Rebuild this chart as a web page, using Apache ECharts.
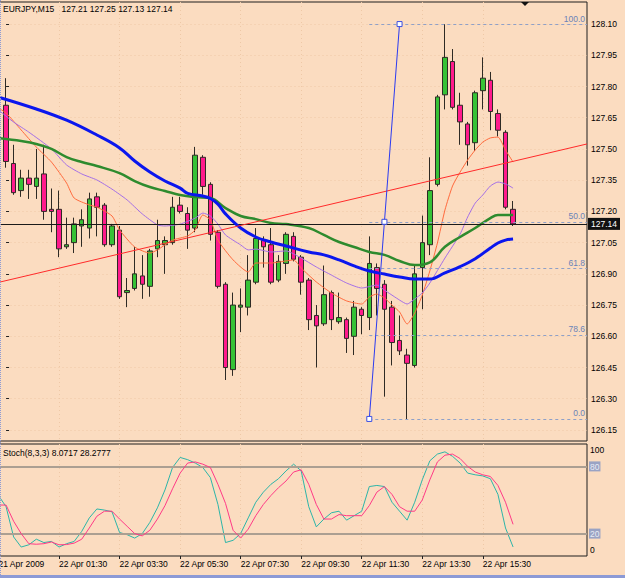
<!DOCTYPE html>
<html><head><meta charset="utf-8">
<script src="https://cdn.jsdelivr.net/npm/echarts@6/dist/echarts.min.js"></script>
<style>html,body{margin:0;padding:0;background:#FBDCC0;}#c{width:625px;height:578px;}</style>
</head><body><div id="c"></div>
<script>
// ---------- data ----------
const symbolName = 'EURJPY,M15';
// bar index 0 = 21 Apr 23:45, one bar per 15 minutes
const openP  = [127.71,127.43,127.30,127.36,127.32,127.38,127.21,127.21,127.03,127.05,127.13,127.12,127.27,127.23,127.04,127.11,126.81,126.83,126.89,126.84,127.02,127.04,127.05,127.23,127.19,127.12,127.46,127.33,127.10,126.85,126.44,126.74,126.74,126.86,127.06,127.04,126.87,126.95,127.08,126.98,126.87,126.70,126.66,126.81,126.67,126.68,126.60,126.73,126.69,126.93,126.85,126.74,126.58,126.51,126.46,126.93,127.04,127.33,127.76,127.92,127.71,127.62,127.53,127.78,127.83,127.67,127.58,127.21];
const highP  = [127.84,127.52,127.40,127.40,127.50,127.52,127.31,127.30,127.17,127.17,127.21,127.29,127.29,127.24,127.14,127.13,126.88,127.03,126.99,127.02,127.16,127.08,127.27,127.27,127.22,127.51,127.47,127.34,127.11,126.86,126.81,126.83,126.99,127.12,127.08,127.12,126.99,127.10,127.10,126.99,126.88,126.75,126.94,126.82,126.81,126.69,126.77,126.74,127.08,126.95,126.87,126.77,126.70,126.54,126.94,127.18,127.46,127.76,128.10,127.98,127.77,127.63,127.78,127.94,127.87,127.69,127.59,127.25];
const lowP   = [127.41,127.28,127.27,127.26,127.26,127.16,127.10,126.98,127.02,127.00,127.03,127.07,127.08,127.03,127.03,126.78,126.74,126.82,126.78,126.79,126.98,126.90,127.04,127.19,127.02,127.10,127.28,127.06,126.83,126.39,126.41,126.62,126.70,126.85,126.93,126.85,126.86,126.90,126.96,126.80,126.63,126.45,126.65,126.63,126.66,126.52,126.51,126.61,126.63,126.70,126.31,126.46,126.51,126.20,126.45,126.73,126.99,127.32,127.69,127.69,127.52,127.42,127.49,127.69,127.59,127.56,127.21,127.13];
const closeP = [127.44,127.29,127.36,127.33,127.36,127.20,127.20,127.02,127.04,127.14,127.16,127.26,127.22,127.04,127.13,126.79,126.82,126.90,126.85,127.01,127.06,127.06,127.22,127.20,127.11,127.47,127.32,127.09,126.84,126.45,126.75,126.75,126.87,127.07,127.03,126.86,126.96,127.09,126.97,126.86,126.68,126.65,126.80,126.68,126.69,126.59,126.74,126.70,126.95,126.83,126.73,126.57,126.53,126.47,126.90,127.05,127.30,127.75,127.94,127.70,127.63,127.52,127.77,127.84,127.68,127.59,127.22,127.14];

const priceTicks = [126.15,126.30,126.45,126.60,126.75,126.90,127.05,127.20,127.35,127.50,127.65,127.80,127.95,128.10];
const timeTickIdx = [-1,7,15,23,31,39,47,55,63];
const timeTickLabels = ['21 Apr 2009','22 Apr 01:30','22 Apr 03:30','22 Apr 05:30','22 Apr 07:30','22 Apr 09:30','22 Apr 11:30','22 Apr 13:30','22 Apr 15:30'];

// moving averages: [bar index, price]
const maBlue = [[-1,127.749],[4,127.692],[8,127.638],[12,127.567],[15,127.505],[17,127.442],[19,127.389],[21,127.346],[23,127.312],[24,127.287],[26,127.274],[27,127.262],[28,127.235],[29,127.188],[31,127.120],[33,127.077],[35,127.053],[37,127.034],[40,127.005],[42,126.991],[44,126.967],[46,126.938],[48,126.914],[50,126.899],[52,126.885],[54,126.875],[56,126.875],[58,126.905],[60,126.935],[62,126.973],[64,127.024],[65,127.048],[66,127.062],[67,127.067]];
const maGreen = [[-1,127.552],[2,127.538],[4,127.524],[6,127.500],[8,127.461],[10,127.437],[12,127.418],[15,127.384],[17,127.346],[19,127.317],[21,127.298],[23,127.279],[25,127.269],[27,127.264],[29,127.216],[31,127.178],[33,127.163],[35,127.144],[37,127.139],[40,127.120],[42,127.087],[44,127.053],[46,127.029],[48,127.005],[50,126.991],[52,126.962],[54,126.942],[56,126.955],[58,127.030],[60,127.077],[62,127.120],[64,127.168],[65,127.183],[67,127.183]];
const maViolet = [[-1,127.687],[1,127.629],[3,127.581],[6,127.500],[8,127.423],[10,127.380],[12,127.351],[14,127.307],[16,127.255],[18,127.188],[20,127.135],[21,127.130],[23,127.139],[25,127.168],[26,127.192],[27,127.178],[28,127.139],[29,127.087],[31,127.039],[32,127.015],[33,127.019],[35,127.005],[37,127.010],[39,126.976],[41,126.933],[43,126.894],[45,126.856],[47,126.832],[49,126.846],[50,126.822],[52,126.774],[53,126.755],[54,126.779],[55,126.808],[56,126.856],[58,126.976],[60,127.091],[61,127.173],[62,127.240],[63,127.279],[64,127.322],[65,127.341],[66,127.332],[67,127.312]];
const maTomato = [[-1,127.696],[0,127.673],[2,127.591],[4,127.509],[6,127.437],[8,127.336],[9,127.264],[11,127.231],[12,127.221],[14,127.178],[15,127.111],[17,127.029],[19,127.000],[20,127.015],[22,127.062],[24,127.082],[25,127.111],[26,127.183],[27,127.159],[28,127.062],[30,126.967],[32,126.909],[33,126.952],[35,126.952],[37,126.962],[38,126.967],[39,126.928],[41,126.861],[43,126.808],[45,126.770],[47,126.755],[48,126.789],[49,126.803],[50,126.784],[51,126.750],[52,126.717],[53,126.659],[54,126.712],[55,126.798],[56,126.914],[57,127.048],[58,127.207],[59,127.322],[60,127.389],[61,127.447],[62,127.495],[63,127.533],[64,127.553],[65,127.557],[66,127.495],[67,127.437]];

const trendLine = [[-1,126.859],[76.77,127.524]];
const fibLevels = ['100.0','50.0','61.8','78.6','0.0'];
const fibPrices = [128.10,127.15,126.926,126.607,126.203];
const fibAnchors = [[48,126.203],[50,127.15],[52,128.10]];
const bidPrice = 127.14;

// stochastic, bar index -1 .. 67
const stochK = [54,44,17,8,10,15,12,13,8,11,13,22,34,42,41,39.5,21,19,16,20,30,43,59,79,88,86,83,79,70,46,12,14,20,34,48,57,64,69,76,82,76,44,26,33,38.6,40,32,36,40,62,63,62,48,40,32,48,68,85,91,93,89,83,74,72.5,71.5,69,55,25,8.0717];
const stochD = [45.5,45.5,31,20,11,10.5,11,12.5,10,10.2,11.5,15,25,35.5,40,40,33,26.5,20,18,23,33,45,60,74,83,84,82,79,64,47,23,16,24,36,46,54,61,67,75,77,64,46,33,33,37,36,36,36,45,57,62,55,44,40,40,50,68,84,90,91,87,80,75,72.5,71,63,48,28.2777];
const stochLevels = [20,80];
const stochScale = [0,20,80,100];

// ---------- chart ----------
const FONT = 'Liberation Sans';
const FS = 8.5;
const dots = {color:'#eec8a6', type:[1,3], width:1};
const candles = openP.map((o,i)=>[i,o,closeP[i],lowP[i],highP[i]]);
const lastI = openP.length-1;
const labelMap = {};
timeTickIdx.forEach((v,k)=>labelMap[v]=timeTickLabels[k]);
const lbl = {fontSize:FS, color:'#000', fontFamily:FONT, showMinLabel:true, showMaxLabel:true, hideOverlap:false};

const chart = echarts.init(document.getElementById('c'), null, {renderer:'svg'});
chart.setOption({
  animation:false,
  backgroundColor:'#FBDCC0',
  textStyle:{fontFamily:FONT},
  title:[
    {text:`${symbolName}   ${openP[lastI].toFixed(2)} ${highP[lastI].toFixed(2)} ${lowP[lastI].toFixed(2)} ${closeP[lastI].toFixed(2)}`,
     left:3, top:4, padding:0, textStyle:{fontSize:FS, fontWeight:'normal', color:'#000', fontFamily:FONT}},
    {text:`Stoch(8,3,3) ${stochK[stochK.length-1]} ${stochD[stochD.length-1]}`,
     left:3, top:448, padding:0, textStyle:{fontSize:FS, fontWeight:'normal', color:'#000', fontFamily:FONT}}
  ],
  grid:[
    {left:-1.5, right:38, top:2, height:439, show:true, borderColor:'#1e1e1e', borderWidth:1, backgroundColor:'transparent', outerBoundsMode:'none', containLabel:false},
    {left:-1.5, right:38, top:444, height:112, show:true, borderColor:'#1e1e1e', borderWidth:1, backgroundColor:'transparent', outerBoundsMode:'none', containLabel:false}
  ],
  xAxis:[
    {gridIndex:0, type:'value', min:-1, max:76.77, axisLine:{show:false},
     axisTick:{show:false, customValues:timeTickIdx}, axisLabel:{show:false, customValues:timeTickIdx},
     splitLine:{show:true, lineStyle:dots}},
    {gridIndex:1, type:'value', min:-1, max:76.77, axisLine:{show:false},
     axisTick:{show:true, length:3, customValues:timeTickIdx, lineStyle:{color:'#222'}},
     axisLabel:Object.assign({customValues:timeTickIdx, formatter:v=>labelMap[v]!==undefined?labelMap[v]:'', align:'left', margin:3}, lbl),
     splitLine:{show:true, lineStyle:dots}}
  ],
  yAxis:[
    {gridIndex:0, type:'value', position:'right', min:126.097, max:128.206, scale:true,
     axisLine:{show:false},
     axisTick:{show:true, length:3, customValues:priceTicks, lineStyle:{color:'#222'}},
     axisLabel:Object.assign({customValues:priceTicks, formatter:v=>v.toFixed(2), margin:4}, lbl),
     splitLine:{show:true, lineStyle:dots}},
    {gridIndex:1, type:'value', position:'right', min:0, max:100,
     axisLine:{show:false},
     axisTick:{show:false, customValues:stochScale},
     axisLabel:Object.assign({customValues:stochScale, margin:2,
       formatter:v=> v===100 ? '{t|100}' : v===0 ? '{b|0}' : '{box|'+v+'}',
       rich:{
         t:{padding:[12,0,0,1], fontSize:FS, color:'#000', fontFamily:FONT},
         b:{padding:[0,0,13,1], fontSize:FS, color:'#000', fontFamily:FONT},
         box:{backgroundColor:'#9aa3c4', color:'#e8ebf4', padding:[1,1,0,1], fontSize:FS, fontFamily:FONT}
       }}, lbl),
     splitLine:{show:false}}
  ],
  series:[
    {type:'candlestick', name:'price', xAxisIndex:0, yAxisIndex:0, data:candles, barWidth:5,
     itemStyle:{color:'#36C236', color0:'#FF1A8C', borderColor:'#2e2a24', borderColor0:'#2e2a24', borderWidth:1},
     markLine:{silent:true, symbol:'none', animation:false,
       lineStyle:{color:'#1a1a1a', type:'solid', width:1},
       label:{show:true, position:'end', distance:1, formatter:()=>bidPrice.toFixed(2), backgroundColor:'#111', color:'#fff',
              padding:[2,3,1,3], fontSize:FS, fontFamily:FONT},
       data:[{yAxis:bidPrice}]}},
    {type:'line', name:'maTomato', xAxisIndex:0, yAxisIndex:0, data:maTomato, showSymbol:false, smooth:0.2,
     lineStyle:{color:'#FF6A3D', width:1}, z:3},
    {type:'line', name:'maViolet', xAxisIndex:0, yAxisIndex:0, data:maViolet, showSymbol:false, smooth:0.2,
     lineStyle:{color:'#A46FE6', width:1}, z:3},
    {type:'line', name:'maGreen', xAxisIndex:0, yAxisIndex:0, data:maGreen, showSymbol:false, smooth:0.4,
     lineStyle:{color:'#2E8B2E', width:2.5}, z:4},
    {type:'line', name:'maBlue', xAxisIndex:0, yAxisIndex:0, data:maBlue, showSymbol:false, smooth:0.4,
     lineStyle:{color:'#0A16EE', width:3}, z:5},
    {type:'line', name:'trend', xAxisIndex:0, yAxisIndex:0, data:trendLine, showSymbol:false,
     lineStyle:{color:'#FF2A2A', width:1}, z:6},
    {type:'line', name:'fib', xAxisIndex:0, yAxisIndex:0, data:fibAnchors, showSymbol:true, symbol:'rect', symbolSize:5,
     itemStyle:{color:'#ffffff', borderColor:'#3a4ee0', borderWidth:1},
     lineStyle:{color:'#2b3bf0', width:1}, z:7,
     markLine:{silent:true, symbol:'none', animation:false,
       lineStyle:{color:'#8ea0c8', type:[3,3], width:1},
       data: fibPrices.map((p,k)=>[
         {coord:[fibAnchors[0][0], p], label:{show:true, position:'insideEndTop', formatter:fibLevels[k], color:'#6a83b8', fontSize:FS, fontFamily:FONT, distance:[2,1]}},
         {coord:[76.77, p]}
       ])}},
    {type:'line', name:'stochMain', xAxisIndex:1, yAxisIndex:1, data:stochK.map((v,k)=>[k-1,v]), showSymbol:false,
     lineStyle:{color:'#2DB5A8', width:1}, z:4,
     markLine:{silent:true, symbol:'none', animation:false, label:{show:false},
       lineStyle:{color:'#ab9f92', type:'solid', width:2},
       data: stochLevels.map(v=>({yAxis:v}))}},
    {type:'line', name:'stochSignal', xAxisIndex:1, yAxisIndex:1, data:stochD.map((v,k)=>[k-1,v]), showSymbol:false,
     lineStyle:{color:'#FF3A86', width:1}, z:5}
  ],
  graphic:[
    {type:'polygon', shape:{points:[[521,2],[529,2],[525,6]]}, style:{fill:'#111'}, z:100},
    {type:'rect', shape:{x:0, y:575, width:625, height:3}, style:{fill:'#8c9ad6'}, z:100},
    {type:'line', shape:{x1:0.5, y1:0, x2:0.5, y2:575}, style:{stroke:'#8c9ad6', lineWidth:1, lineDash:[1,1]}, z:100}
  ]
});
</script></body></html>
